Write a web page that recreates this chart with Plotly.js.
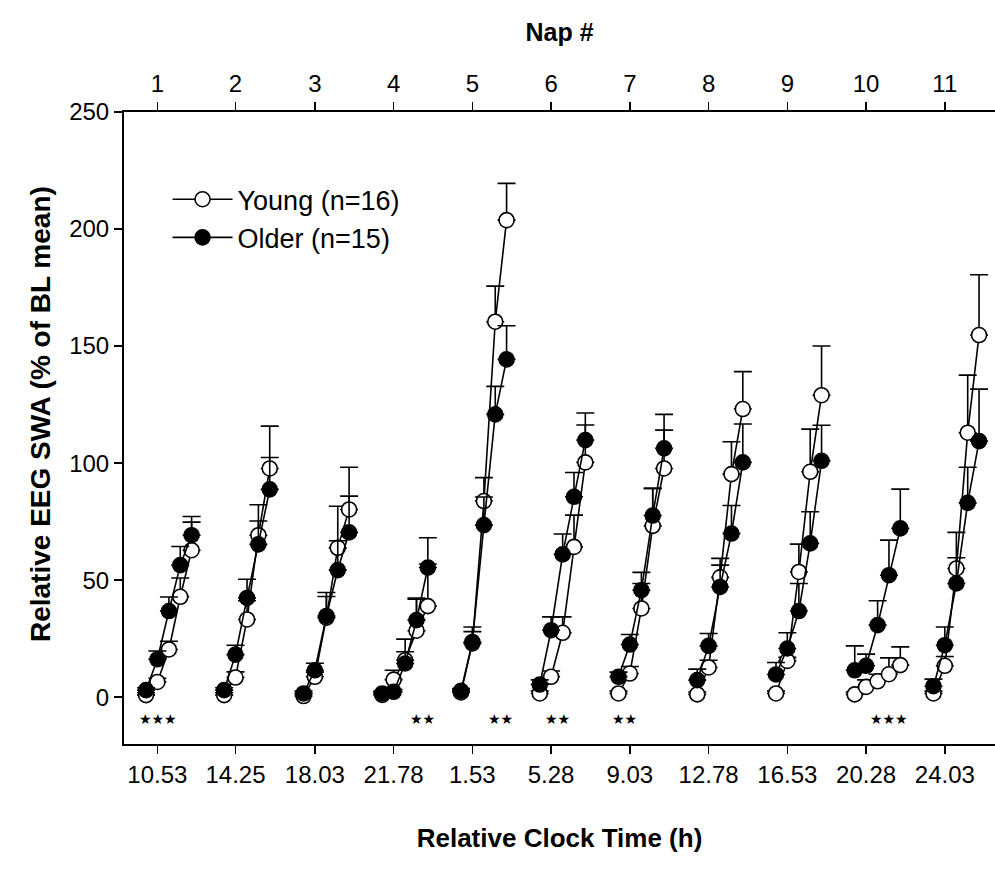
<!DOCTYPE html>
<html><head><meta charset="utf-8">
<script src="https://cdn.plot.ly/plotly-3.0.1.min.js"></script>
<style>html,body{margin:0;padding:0;background:#fff}#chart{width:995px;height:881px}</style>
</head><body><div id="chart"></div>
<script>
// Nap numbers (top axis) and relative clock times (bottom axis)
const napNumbers = ['1','2','3','4','5','6','7','8','9','10','11'];
const napTimes = [10.53, 14.25, 18.03, 21.78, 25.53, 29.28, 33.03, 36.78, 40.53, 44.28, 48.03];
const clockLabels = ['10.53','14.25','18.03','21.78','1.53','5.28','9.03','12.78','16.53','20.28','24.03'];
// time of each of the 5 SWA samples relative to nap time (h)
const sampleOffsets = [-0.54, 0, 0.55, 1.09, 1.63];

// Young (n=16): mean and SEM per nap
const youngMean = [
  [0.9, 6.5, 20.4, 42.9, 62.8],
  [0.9, 8.4, 33.2, 69.2, 97.7],
  [0.5, 8.7, 34.0, 63.8, 80.2],
  [1.0, 7.5, 15.8, 28.4, 38.9],
  [2.0, 23.0, 83.8, 160.4, 203.8],
  [1.6, 8.7, 27.5, 64.2, 100.3],
  [1.6, 10.1, 37.9, 73.2, 97.7],
  [1.2, 12.7, 51.2, 95.3, 123.1],
  [1.6, 15.5, 53.5, 96.3, 129.0],
  [1.2, 4.4, 6.8, 9.8, 13.7],
  [1.6, 13.4, 55.0, 113.0, 154.7]
];
const youngSEM = [
  [1, 1.6, 3.5, 8, 12],
  [1, 2.4, 8, 13, 4.7],
  [1, 2, 9, 17.8, 18],
  [1, 4, 9, 14, 18],
  [1, 5, 10, 15.2, 15.7],
  [1, 2.5, 6.8, 13.6, 16],
  [1, 3, 10.7, 16, 16.4],
  [1, 3.1, 8.1, 13.8, 16],
  [1, 1.5, 11.9, 18.2, 21],
  [1, 3, 3, 7, 7.8],
  [1, 4, 15.4, 24.6, 25.8]
];
// Older (n=15): mean and SEM per nap
const olderMean = [
  [3.0, 16.2, 36.8, 56.4, 69.2],
  [3.0, 18.2, 42.4, 65.3, 88.8],
  [1.6, 11.5, 34.7, 54.3, 70.4],
  [1.6, 2.3, 14.4, 32.9, 55.4],
  [2.7, 23.6, 73.5, 120.8, 144.3],
  [5.4, 28.6, 61.0, 85.6, 109.8],
  [8.7, 22.5, 45.7, 77.6, 106.3],
  [7.3, 21.9, 47.1, 69.9, 100.3],
  [9.7, 20.8, 36.8, 65.7, 101.0],
  [11.5, 13.4, 30.8, 52.1, 72.1],
  [4.7, 22.2, 48.6, 83.0, 109.4]
];
const olderSEM = [
  [1, 3.5, 6, 8, 8],
  [1, 4, 8, 10, 27],
  [1, 3, 10, 12.5, 15.5],
  [1, 1, 5, 9, 12.7],
  [1, 6.4, 12, 12, 14.4],
  [2, 5.7, 8.7, 10.4, 11.6],
  [2, 4.3, 7.6, 11.6, 14.5],
  [4.7, 5.3, 9.3, 12, 16.4],
  [5.1, 6.7, 11.8, 13.5, 15.2],
  [10.4, 5, 10.4, 15, 16.8],
  [3, 7.8, 11, 15.2, 22.2]
];
// significance markers
const sigX = [10.54, 23.14, 26.89, 29.57, 32.77, 45.37];
const sigStars = ['★★★','★★','★★','★★','★★','★★★'];
const sigY = -9.4;

function build(meanArr, semArr) {
  const x = [], y = [], e = [], em = [];
  napTimes.forEach((t, i) => {
    sampleOffsets.forEach((o, j) => {
      x.push(t + o); y.push(meanArr[i][j]); e.push(semArr[i][j]); em.push(0);
    });
    x.push(null); y.push(null); e.push(null); em.push(null);
  });
  return {x, y, e, em};
}
const Y = build(youngMean, youngSEM);
const O = build(olderMean, olderSEM);

const lineStyle = {color: '#000', width: 1.6};
const traces = [
  {
    x: Y.x, y: Y.y, name: 'Young (n=16)', type: 'scatter', mode: 'lines+markers',
    connectgaps: false, line: lineStyle, legendgroup: 'a',
    marker: {symbol: 'circle', size: 15, color: '#fff', line: {color: '#000', width: 1.6}},
    error_y: {type: 'data', symmetric: false, array: Y.e, arrayminus: Y.em, color: '#000', thickness: 1.6, width: 9}
  },
  {
    x: O.x, y: O.y, name: 'Older (n=15)', type: 'scatter', mode: 'lines+markers',
    connectgaps: false, line: lineStyle, legendgroup: 'b',
    marker: {symbol: 'circle', size: 15, color: '#000', line: {color: '#000', width: 1.6}},
    error_y: {type: 'data', symmetric: false, array: O.e, arrayminus: O.em, color: '#000', thickness: 1.6, width: 9}
  },
  {
    x: napTimes, y: napTimes.map(() => null), xaxis: 'x2', type: 'scatter', mode: 'markers',
    showlegend: false, hoverinfo: 'skip'
  }
];

const FAM = 'Liberation Sans, Arial, sans-serif';
const xRange = [8.94, 50.42];
const tickFont = {family: FAM, size: 24, color: '#000'};
const layout = {
  width: 995, height: 881,
  margin: {l: 124, r: 0, t: 112, b: 137},
  paper_bgcolor: '#fff', plot_bgcolor: '#fff',
  font: tickFont,
  showlegend: true,
  legend: {x: 0.05, y: 0.9, xanchor: 'left', yanchor: 'top', bgcolor: 'rgba(0,0,0,0)',
           font: {family: FAM, size: 27, color: '#000'}, itemwidth: 60,
           traceorder: 'grouped', tracegroupgap: 0},
  xaxis: {
    range: xRange, tickmode: 'array', tickvals: napTimes, ticktext: clockLabels,
    ticks: 'outside', ticklen: 8, tickwidth: 1.5, tickcolor: '#000',
    showline: true, linewidth: 2, linecolor: '#000', showgrid: false, zeroline: false,
    tickfont: tickFont,
    title: {text: '<b>Relative Clock Time (h)</b>', font: {family: FAM, size: 26, color: '#000'}, standoff: 42}
  },
  xaxis2: {
    overlaying: 'x', side: 'top', anchor: 'y', range: xRange, tickmode: 'array', tickvals: napTimes, ticktext: napNumbers,
    ticks: 'outside', ticklen: 8, tickwidth: 1.5, tickcolor: '#000',
    showline: true, linewidth: 2, linecolor: '#000', showgrid: false, zeroline: false,
    tickfont: tickFont,
    title: {text: '<b>Nap #</b>', font: {family: FAM, size: 25, color: '#000'}, standoff: 22}
  },
  yaxis: {
    range: [-20, 250], tickmode: 'array', tickvals: [0, 50, 100, 150, 200, 250],
    ticks: 'outside', ticklen: 8, tickwidth: 1.5, tickcolor: '#000',
    showline: true, linewidth: 2, linecolor: '#000', showgrid: false, zeroline: false,
    tickfont: tickFont
  },
  annotations: sigX.map((x, i) => ({
    x: x, y: sigY, xref: 'x', yref: 'y', text: sigStars[i], showarrow: false,
    font: {family: 'DejaVu Sans', size: 14, color: '#000'}
  })).concat([{
    text: '<b>Relative EEG SWA (% of BL mean)</b>', textangle: -90, showarrow: false,
    xref: 'paper', yref: 'paper', x: -0.0965, y: 0.522, xanchor: 'center', yanchor: 'middle',
    font: {family: FAM, size: 28, color: '#000'}
  }])
};

Plotly.newPlot('chart', traces, layout, {displayModeBar: false, staticPlot: true});
</script>
</body></html>
